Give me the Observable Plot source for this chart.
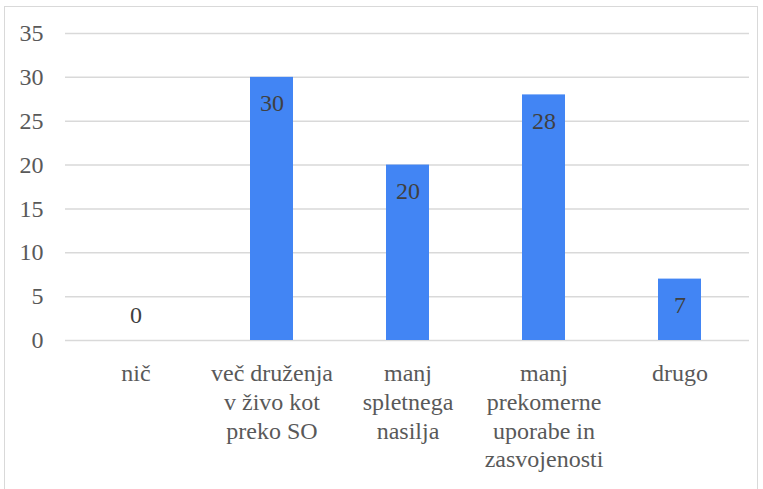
<!DOCTYPE html>
<html>
<head>
<meta charset="utf-8">
<script src="https://cdn.jsdelivr.net/npm/d3@7"></script>
<script src="https://cdn.jsdelivr.net/npm/@observablehq/plot@0.6"></script>
</head>
<body style="margin:0;padding:0;background:#fff">
<div id="wrap" style="position:relative;width:763px;height:489px;overflow:hidden"><div style="position:absolute;left:4px;top:6px;width:754px;height:500px;border:1px solid #d9d9d9;box-sizing:border-box;pointer-events:none"></div></div>
<script>
const categories = ["nič", "več druženja\nv živo kot\npreko SO", "manj\nspletnega\nnasilja", "manj\nprekomerne\nuporabe in\nzasvojenosti", "drugo"];
const values = [0, 30, 20, 28, 7];
const yTicks = [0, 5, 10, 15, 20, 25, 30, 35];

const data = categories.map((c, i) => ({category: c, value: values[i]}));
const font = "Times New Roman, Liberation Serif, serif";

const chart = Plot.plot({
  width: 763,
  height: 489,
  marginLeft: 65,
  marginRight: 14,
  marginTop: 33,
  marginBottom: 149,
  style: {fontFamily: font, fontSize: "24px"},
  x: {domain: categories, paddingInner: 0.686, paddingOuter: 0.343, label: null},
  y: {domain: [0, 35], ticks: yTicks, label: null},
  marks: [
    Plot.gridY(yTicks, {stroke: "#d9d9d9", strokeOpacity: 1, strokeWidth: 1.5}),
    Plot.barY(data, {x: "category", y: "value", fill: "#4285f4"}),
    Plot.axisY(yTicks, {tickSize: 0, tickPadding: 22, fontSize: 24, fontFamily: font, fill: "#595959", label: null}),
    Plot.axisX({tickSize: 0, tickPadding: 20, fontSize: 24, fontFamily: font, fill: "#595959", lineHeight: 1.2, label: null}),
    Plot.text(data.filter(d => d.value > 0), {x: "category", y: "value", text: d => String(d.value), dy: 26, fontSize: 24, fontFamily: font, fill: "#404040"}),
    Plot.text(data.filter(d => d.value === 0), {x: "category", y: "value", text: d => String(d.value), dy: -25, fontSize: 24, fontFamily: font, fill: "#404040"})
  ]
});
document.getElementById("wrap").prepend(chart);
</script>
</body>
</html>
